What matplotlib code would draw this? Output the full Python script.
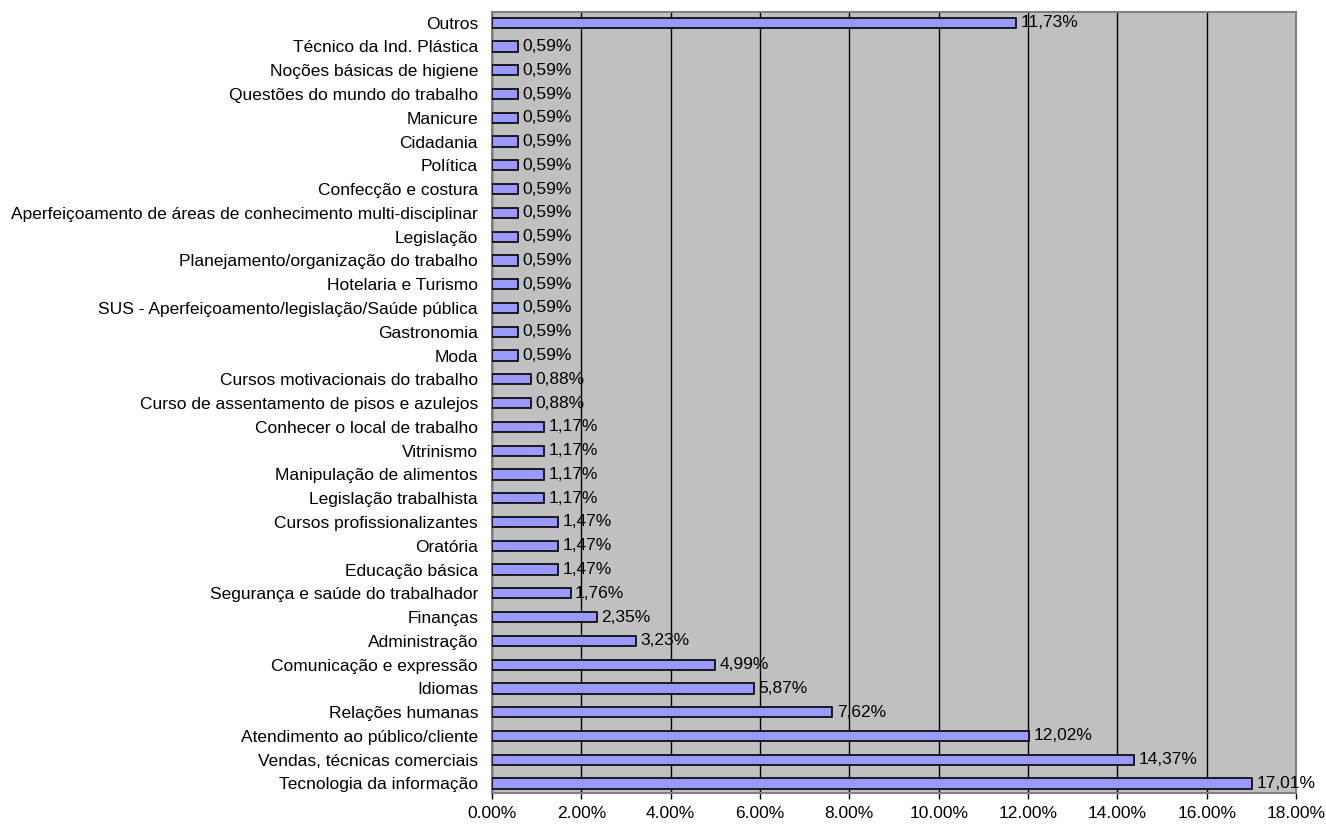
import matplotlib
matplotlib.use("Agg")
import matplotlib.pyplot as plt
from matplotlib.ticker import MultipleLocator, FuncFormatter

plt.rcParams['font.family'] = ['Liberation Sans', 'DejaVu Sans']

categories = [
    "Tecnologia da informação",
    "Vendas, técnicas comerciais",
    "Atendimento ao público/cliente",
    "Relações humanas",
    "Idiomas",
    "Comunicação e expressão",
    "Administração",
    "Finanças",
    "Segurança e saúde do trabalhador",
    "Educação básica",
    "Oratória",
    "Cursos profissionalizantes",
    "Legislação trabalhista",
    "Manipulação de alimentos",
    "Vitrinismo",
    "Conhecer o local de trabalho",
    "Curso de assentamento de pisos e azulejos",
    "Cursos motivacionais do trabalho",
    "Moda",
    "Gastronomia",
    "SUS - Aperfeiçoamento/legislação/Saúde pública",
    "Hotelaria e Turismo",
    "Planejamento/organização do trabalho",
    "Legislação",
    "Aperfeiçoamento de áreas de conhecimento multi-disciplinar",
    "Confecção e costura",
    "Política",
    "Cidadania",
    "Manicure",
    "Questões do mundo do trabalho",
    "Noções básicas de higiene",
    "Técnico da Ind. Plástica",
    "Outros",
]

values = [
    17.01, 14.37, 12.02, 7.62, 5.87, 4.99, 3.23, 2.35, 1.76, 1.47, 1.47,
    1.47, 1.17, 1.17, 1.17, 1.17, 0.88, 0.88, 0.59, 0.59, 0.59, 0.59,
    0.59, 0.59, 0.59, 0.59, 0.59, 0.59, 0.59, 0.59, 0.59, 0.59, 11.73,
]

FS = 12.5

fig = plt.figure(figsize=(13.26, 8.27), dpi=100)
ax = fig.add_axes([492 / 1326, 1 - 793 / 827, (1296 - 492) / 1326, (793 - 12) / 827])
ax.set_facecolor('#c0c0c0')

ypos = list(range(len(categories)))
ax.barh(ypos, values, height=0.43, color='#9999ff', edgecolor='black',
        linewidth=1.2, zorder=3)

for y, v in zip(ypos, values):
    ax.text(v + 0.1, y, f"{v:.2f}%".replace('.', ','), va='center', ha='left',
            fontsize=FS, zorder=4)

ax.set_xlim(0, 18)
ax.set_ylim(-0.4, len(categories) - 0.55)
ax.xaxis.set_major_locator(MultipleLocator(2))
ax.xaxis.set_major_formatter(FuncFormatter(lambda x, p: f"{x:.2f}%"))
ax.set_yticks(ypos)
ax.set_yticklabels(categories, fontsize=FS)
ax.tick_params(axis='y', length=0, pad=10)
ax.tick_params(axis='x', direction='out', length=4.5, width=1, colors='black',
               labelsize=FS, pad=5)

ax.grid(axis='x', color='black', linewidth=1, zorder=1)
ax.set_axisbelow(True)
for side in ['top', 'right', 'left', 'bottom']:
    ax.spines[side].set_color('#808080')
    ax.spines[side].set_linewidth(1.5)

fig.savefig('out.png', dpi=100)
